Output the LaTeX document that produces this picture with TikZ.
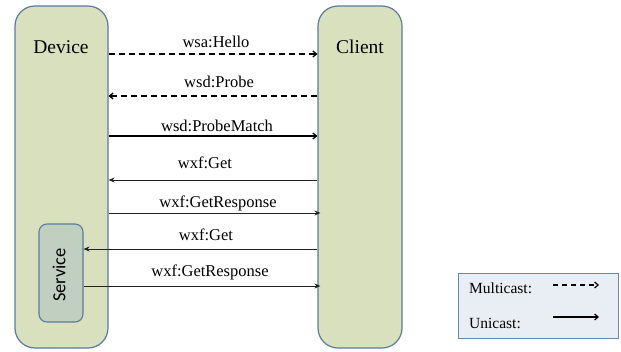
\documentclass[tikz,border=0pt]{standalone}
\usepackage{fontspec}
\setmainfont{Liberation Serif}
\newfontfamily\servfont{Carlito}
\usetikzlibrary{arrows.meta}
\definecolor{lanefill}{HTML}{D8E0BD}
\definecolor{laneedge}{HTML}{5B7AA0}
\definecolor{svcfill}{HTML}{C0CFC0}
\definecolor{keyfill}{HTML}{E9EDF4}
\definecolor{keyedge}{HTML}{6A86AA}
\definecolor{msgline}{HTML}{222222}
\tikzset{
  lane/.style={draw=laneedge, line width=1.2pt, fill=lanefill, rounded corners=20pt,
    inner sep=0pt, minimum width=#1},
  svcbox/.style={draw=laneedge, line width=1.1pt, fill=svcfill, rounded corners=8pt,
    inner sep=0pt, minimum width=44pt, minimum height=98pt},
  keybox/.style={draw=keyedge, line width=1pt, fill=keyfill, inner sep=0pt,
    minimum width=160pt, minimum height=65pt},
  title/.style={font=\fontsize{19.5}{22}\selectfont, anchor=base, inner sep=0pt},
  msg/.style={font=\fontsize{16.5}{19}\selectfont, anchor=base, inner sep=0pt},
  keytext/.style={font=\fontsize{15.5}{18}\selectfont, anchor=base west, inner sep=0pt},
  tip/.style={-{Straight Barb[length=3.5pt,width=6pt]}},
  multi/.style={tip, dashed, dash pattern=on 6pt off 4pt, line width=1.3pt, draw=black},
  uni/.style={tip, line width=1.3pt, draw=black},
  thin/.style={-{Stealth[length=6pt,width=5pt,inset=2pt]}, line width=0.9pt, draw=msgline},
}
\begin{document}
\begin{tikzpicture}[x=1pt, y=-1pt]
  \useasboundingbox (0,0) rectangle (621,351);

  % lanes
  \node[lane=93pt, minimum height=342pt] (dev) at (61.5,177) {};
  \node[lane=84pt, minimum height=342pt] (cli) at (360,177) {};
  \node[title] (devlbl) at (61,53) {Device};
  \node[title] (clilbl) at (360,53) {Client};

  % service inside the device
  \node[svcbox] (svc) at (61,273) {};
  \node[font=\servfont\fontsize{18.5}{20}\selectfont, rotate=90, inner sep=0pt] (svclbl) at (59,275) {Service};

  % discovery
  \draw[multi] (dev.east |- 0,54) -- (cli.west |- 0,54);
  \node[msg] (m1) at (216,47) {wsa:Hello};
  \draw[multi] (cli.west |- 0,96) -- (dev.east |- 0,96);
  \node[msg] (m2) at (219,87) {wsd:Probe};
  \draw[uni] (dev.east |- 0,136) -- (cli.west |- 0,136);
  \node[msg] (m3) at (217,131) {wsd:ProbeMatch};

  % transfer
  \draw[thin] (cli.west |- 0,180) -- (dev.east |- 0,180);
  \node[msg] (m4) at (205,168) {wxf:Get};
  \draw[thin] (dev.east |- 0,213) -- ([xshift=3pt]cli.west |- 0,213);
  \node[msg] (m5) at (218,207) {wxf:GetResponse};
  \draw[thin] (cli.west |- 0,249) -- (svc.east |- 0,249);
  \node[msg] (m6) at (206,240) {wxf:Get};
  \draw[thin] (svc.east |- 0,286) -- ([xshift=3pt]cli.west |- 0,286);
  \node[msg] (m7) at (210,276) {wxf:GetResponse};

  % key
  \node[keybox] (key) at (538,305.5) {};
  \node[keytext] (k1) at (469,293) {Multicast:};
  \node[keytext] (k2) at (469,328) {Unicast:};
  \coordinate (k1a) at (553,285);
  \coordinate (k1b) at (599,285);
  \coordinate (k2a) at (553,317);
  \coordinate (k2b) at (599,317);
  \draw[multi, line width=1.2pt, dash pattern=on 5pt off 4pt] (k1a) -- (k1b);
  \draw[uni, line width=1.2pt] (k2a) -- (k2b);
\end{tikzpicture}
\end{document}
